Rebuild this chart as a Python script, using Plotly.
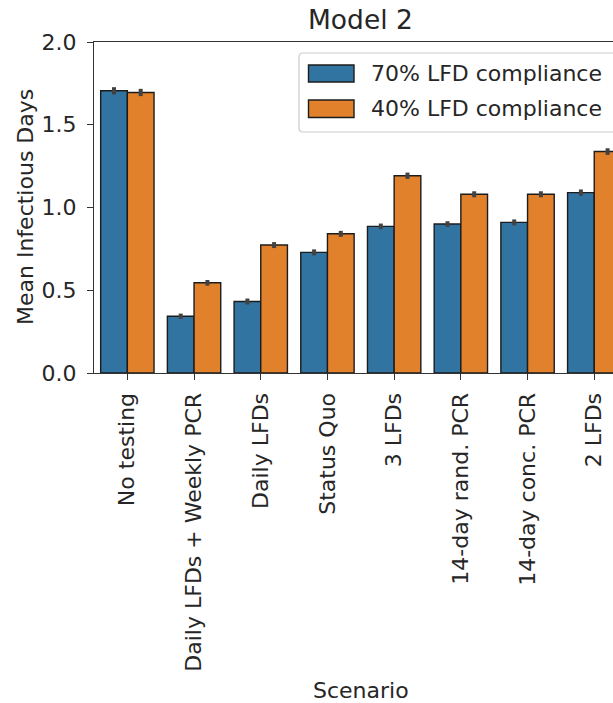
import plotly.graph_objects as go

# Mean infectious days per testing scenario, two LFD compliance levels
scenarios = ["No testing", "Daily LFDs + Weekly PCR", "Daily LFDs", "Status Quo",
             "3 LFDs", "14-day rand. PCR", "14-day conc. PCR", "2 LFDs"]
series_names = ["70% LFD compliance", "40% LFD compliance"]
mean_70 = [1.705, 0.343, 0.432, 0.729, 0.886, 0.900, 0.910, 1.090]
mean_40 = [1.695, 0.545, 0.773, 0.841, 1.192, 1.080, 1.080, 1.338]
err_70 = [0.022, 0.016, 0.018, 0.018, 0.017, 0.017, 0.018, 0.019]
err_40 = [0.022, 0.017, 0.018, 0.018, 0.019, 0.018, 0.018, 0.020]
y_ticks = [0.0, 0.5, 1.0, 1.5, 2.0]

BLUE = "#3274a1"
ORANGE = "#e1812c"
EDGE = "#1c1c1c"
ERR = "#424242"
TXT = "#262626"
FONT = "DejaVu Sans"

W, H = 613, 703
L, R, T, B = 94, 0, 42, 330
PW = W - L - R
PH = H - T - B
UNIT = 66.7  # pixels per category


def px_x(px):
    return (px - L) / PW


def px_y(py):
    return (H - B - py) / PH


fig = go.Figure()
for name, vals, errs, col in [(series_names[0], mean_70, err_70, BLUE),
                              (series_names[1], mean_40, err_40, ORANGE)]:
    fig.add_trace(go.Bar(
        x=scenarios, y=vals, name=name,
        marker=dict(color=col, line=dict(color=EDGE, width=1.4)),
        error_y=dict(type="data", array=errs, visible=True,
                     color=ERR, thickness=4, width=0),
        showlegend=False,
    ))

fig.update_layout(
    width=W, height=H,
    margin=dict(l=L, r=R, t=T, b=B, pad=0),
    paper_bgcolor="white", plot_bgcolor="white",
    barmode="group", bargap=0.2, bargroupgap=0,
    font=dict(family=FONT, size=22, color=TXT),
)

fig.update_xaxes(
    type="category", categoryorder="array", categoryarray=scenarios,
    range=[-0.5, PW / UNIT - 0.5],
    showline=True, linecolor="#333333", linewidth=1.3, mirror=True,
    ticks="outside", ticklen=6, tickwidth=1.3, tickcolor="#333333",
    tickangle=-90, ticklabelstandoff=4,
    tickfont=dict(family=FONT, size=22, color=TXT),
    showgrid=False, zeroline=False,
)
fig.update_yaxes(
    range=[0, 2.0], tickvals=y_ticks, ticktext=[f"{v:.1f}" for v in y_ticks],
    showline=True, linecolor="#333333", linewidth=1.3, mirror=False,
    ticks="outside", ticklen=6, tickwidth=1.3, tickcolor="#333333",
    ticklabelstandoff=6,
    tickfont=dict(family=FONT, size=22, color=TXT),
    showgrid=False, zeroline=False,
)

annotations = [
    dict(text="Model 2", x=px_x(360), y=1, xref="paper", yref="paper",
         xanchor="center", yanchor="bottom", yshift=5, showarrow=False,
         font=dict(family=FONT, size=26.5, color=TXT)),
    dict(text="Scenario", x=px_x(361), y=px_y(690), xref="paper", yref="paper",
         xanchor="center", yanchor="middle", showarrow=False,
         font=dict(family=FONT, size=22, color=TXT)),
    dict(text="Mean Infectious Days", x=px_x(25), y=px_y(207), xref="paper",
         yref="paper", xanchor="center", yanchor="middle", textangle=-90,
         showarrow=False, font=dict(family=FONT, size=22, color=TXT)),
]

# Legend: rounded frame (given in pixels, converted to paper coords)
x0, x1, y0, y1, rad = 299, 660, 53, 132, 4
frame_px = [("M", x0 + rad, y0), ("L", x1, y0), ("L", x1, y1), ("L", x0 + rad, y1),
            ("Q", x0, y1), ("", x0, y1 - rad), ("L", x0, y0 + rad),
            ("Q", x0, y0), ("", x0 + rad, y0)]
path = " ".join(f"{cmd} {px_x(a):.5f},{px_y(b):.5f}".strip() for cmd, a, b in frame_px) + " Z"
shapes = [dict(type="path", path=path, xref="paper", yref="paper",
               line=dict(color="#cccccc", width=1.2),
               fillcolor="rgba(255,255,255,0.8)", layer="above")]

rows = [(series_names[0], BLUE, 65, 82), (series_names[1], ORANGE, 100, 117.5)]
for name, col, ya, yb in rows:
    shapes.append(dict(type="rect", xref="paper", yref="paper",
                       x0=px_x(308.5), x1=px_x(354), y0=px_y(yb), y1=px_y(ya),
                       fillcolor=col, line=dict(color=EDGE, width=1.4), layer="above"))
    annotations.append(dict(text=name, x=px_x(369), y=px_y((ya + yb) / 2),
                            xref="paper", yref="paper", xanchor="left",
                            yanchor="middle", showarrow=False,
                            font=dict(family=FONT, size=22, color=TXT)))

fig.update_layout(shapes=shapes, annotations=annotations)

fig.write_html("out.html")
